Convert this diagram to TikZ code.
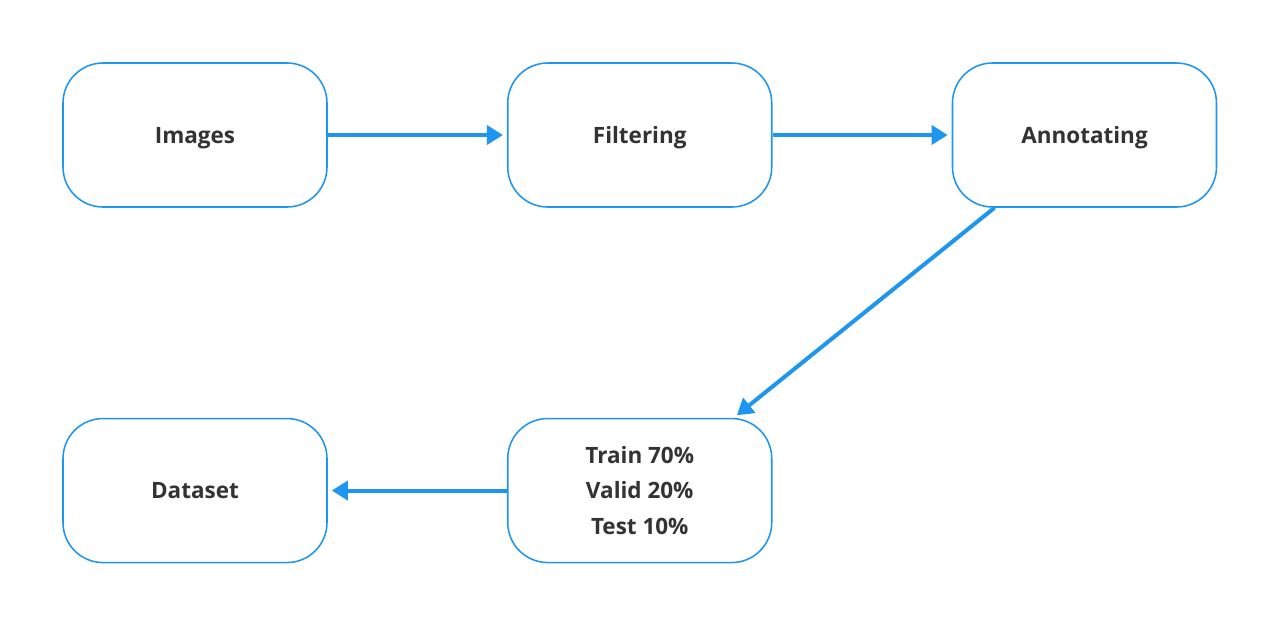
\documentclass[tikz,border=0pt]{standalone}
\usepackage{fontspec}
\setmainfont{Open Sans}
\usetikzlibrary{arrows.meta, positioning, calc}
\definecolor{flowblue}{HTML}{1E96F0}
\definecolor{flowtext}{HTML}{333333}

\begin{document}
\begin{tikzpicture}[node distance=4.48cm, b/.style={rectangle,draw=flowblue,fill=white,line width=1.1pt,minimum width=6.6cm,minimum height=3.6cm,rounded corners=1cm,align=center,text=flowtext,font=\fontsize{16}{25.6}\selectfont\bfseries}, one/.style={b,text depth=0pt}, arr/.style={-{Triangle[length=0.4cm,width=0.47cm]},line width=0.1cm,flowblue,shorten >=0.1cm}]
  \useasboundingbox (0,0) rectangle (32,-15.575);
  \node[one](img) at (4.875,-3.375){Images};
  \node[one,right=of img](filt){Filtering};
  \node[one,right=of filt](ann){Annotating};
  \node[one,below=5.25cm of img](data){Dataset};
  \node[b,below=5.25cm of filt](split){Train 70\%\\Valid 20\%\\Test 10\%};
  \foreach \x/\y in {img/filt,filt/ann,split/data}{\draw[arr](\x)--(\y);}
  \draw[arr]($(ann.south)+(-2.25,0)$)--($(split.north)+(2.35,0)$);
\end{tikzpicture}
\end{document}
